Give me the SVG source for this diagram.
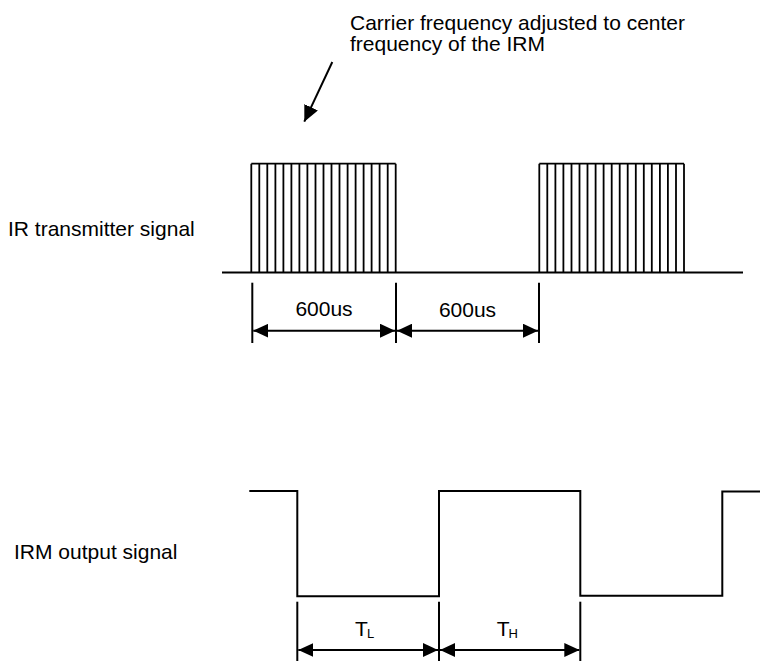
<svg xmlns="http://www.w3.org/2000/svg" width="761" height="661" viewBox="0 0 761 661">
<style>
  text { font-family: "Liberation Sans", Arial, sans-serif; font-size: 21px; fill: #000; }
  .sub { font-size: 13px; }
  .ln { fill: none; stroke: #000; stroke-width: 2; }
  .thin { fill: none; stroke: #000; stroke-width: 1.8; }
  .dim { fill: none; stroke: #000; stroke-width: 2; marker-start: url(#ah); marker-end: url(#ah); }
</style>
<defs>
  <marker id="ah" viewBox="0 0 15 14" refX="15" refY="7" markerWidth="15" markerHeight="14" markerUnits="userSpaceOnUse" orient="auto-start-reverse">
    <path d="M0,0 L15,7 L0,14 z" fill="#000"/>
  </marker>
  <marker id="ah1" viewBox="0 0 16 15" refX="16" refY="7.5" markerWidth="16" markerHeight="15" markerUnits="userSpaceOnUse" orient="auto">
    <path d="M0,0 L16,7.5 L0,15 z" fill="#000"/>
  </marker>
</defs>

<g id="annotation">
  <text x="350" y="29.5">Carrier frequency adjusted to center</text>
  <text x="350" y="50.5">frequency of the IRM</text>
</g>

<g id="label-ir">
  <text x="8" y="236">IR transmitter signal</text>
</g>
<g id="label-irm">
  <text x="14" y="559">IRM output signal</text>
</g>

<g id="ir-signal">
  <line class="ln" x1="222" y1="272.5" x2="743" y2="272.5"/>
  <g id="burst1" class="thin">
    <line x1="251.3" y1="163.7" x2="395.7" y2="163.7"/>
    <path d="M251.3,163.7V272.5 M259.3,163.7V272.5 M267.3,163.7V272.5 M275.4,163.7V272.5 M283.4,163.7V272.5 M291.4,163.7V272.5 M299.4,163.7V272.5 M307.4,163.7V272.5 M315.5,163.7V272.5 M323.5,163.7V272.5 M331.5,163.7V272.5 M339.5,163.7V272.5 M347.6,163.7V272.5 M355.6,163.7V272.5 M363.6,163.7V272.5 M371.6,163.7V272.5 M379.6,163.7V272.5 M387.7,163.7V272.5 M395.7,163.7V272.5"/>
  </g>
  <g id="burst2" class="thin">
    <line x1="539.3" y1="163.7" x2="684" y2="163.7"/>
    <path d="M539.3,163.7V272.5 M547.3,163.7V272.5 M555.4,163.7V272.5 M563.4,163.7V272.5 M571.5,163.7V272.5 M579.5,163.7V272.5 M587.5,163.7V272.5 M595.6,163.7V272.5 M603.6,163.7V272.5 M611.7,163.7V272.5 M619.7,163.7V272.5 M627.7,163.7V272.5 M635.8,163.7V272.5 M643.8,163.7V272.5 M651.8,163.7V272.5 M659.9,163.7V272.5 M667.9,163.7V272.5 M676.0,163.7V272.5 M684,163.7V272.5"/>
  </g>
</g>

<g id="irm-signal">
  <path class="ln" d="M249.3,491 H297.3 V596.3 H439 V491 H580.3 V595.7 H722.3 V491.5 H760"/>
</g>

<g id="connectors">
  <line class="ln" x1="332.3" y1="62" x2="304.3" y2="121.7" marker-end="url(#ah1)"/>
  <line class="ln" x1="252.3" y1="282.7" x2="252.3" y2="343"/>
  <line class="ln" x1="396" y1="282.7" x2="396" y2="343"/>
  <line class="ln" x1="539" y1="282.7" x2="539" y2="343"/>
  <line class="dim" x1="253.3" y1="330.7" x2="395" y2="330.7"/>
  <line class="dim" x1="397" y1="330.7" x2="538" y2="330.7"/>
  <line class="ln" x1="297.3" y1="601.7" x2="297.3" y2="661"/>
  <line class="ln" x1="439" y1="601.7" x2="439" y2="661"/>
  <line class="ln" x1="580.3" y1="601.7" x2="580.3" y2="661"/>
  <line class="dim" x1="298.3" y1="650" x2="438" y2="650"/>
  <line class="dim" x1="440" y1="650" x2="579.3" y2="650"/>
</g>

<g id="dim-labels">
  <text x="324" y="316" text-anchor="middle">600us</text>
  <text x="467.5" y="317" text-anchor="middle">600us</text>
  <text x="355" y="636">T<tspan class="sub" x="367" y="637.5">L</tspan></text>
  <text x="496.7" y="636">T<tspan class="sub" x="508.5" y="637.5">H</tspan></text>
</g>
</svg>
